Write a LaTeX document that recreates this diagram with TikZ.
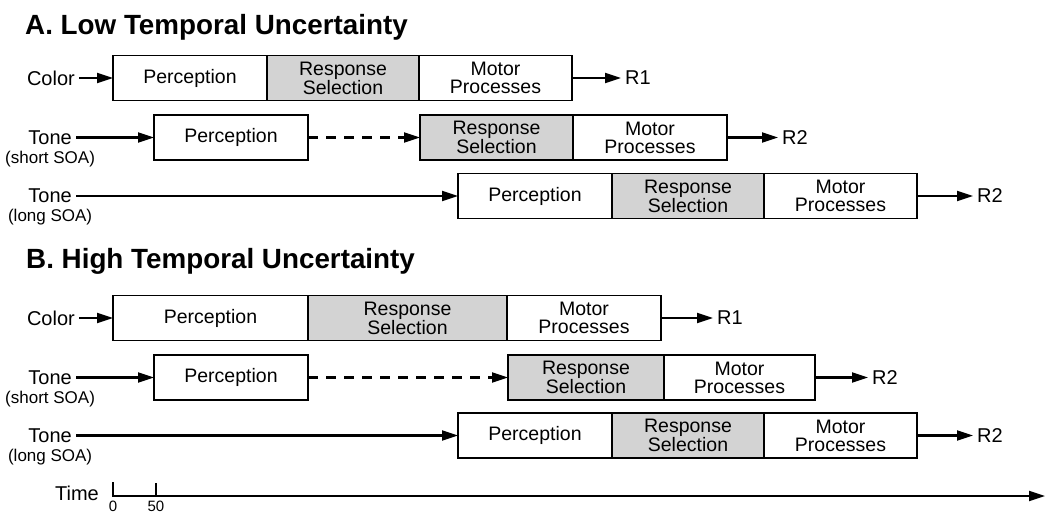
\documentclass[tikz,border=0pt]{standalone}
\usepackage{fontspec}
\setmainfont{Liberation Sans}
\usetikzlibrary{arrows.meta,positioning}
\definecolor{selgray}{RGB}{211,211,211}

\begin{document}
\begin{tikzpicture}[x=1pt,y=-1pt,
		stage/.style={draw, line width=1.6pt, minimum height=45pt, outer sep=0pt, inner sep=0pt, align=center, anchor=west, font=\fontsize{19.5}{18}\selectfont},
		select/.style={stage, fill=selgray},
		lbl/.style={inner xsep=4pt, inner ysep=0pt, font=\fontsize{20}{20}\selectfont},
		soa/.style={inner sep=0pt, font=\fontsize{17}{17}\selectfont},
		title/.style={inner sep=0pt, anchor=base west, font=\fontsize{27.8}{27.8}\selectfont\bfseries},
		arrow/.style={-{Triangle[length=16pt,width=10pt]}, line width=2.2pt}
		]
		\useasboundingbox (0,0) rectangle (1045,516);
		
		% Titles
		\node[title] (ttlA) at (25,35) {A. Low Temporal Uncertainty};
		\node[title] (ttlB) at (26,268) {B. High Temporal Uncertainty};
		
		% A: stages
		\node[stage, minimum width=154] (a1per) at (113,78) {Perception};
		\node[select, minimum width=152] (a1sel) at (a1per.east) {Response\\Selection};
		\node[stage, minimum width=153] (a1mot) at (a1sel.east) {Motor\\Processes};
		
		\node[stage, minimum width=154] (a2per) at (154,137.5) {Perception};
		\node[select, minimum width=153] (a2sel) at (420,137.5) {Response\\Selection};
		\node[stage, minimum width=154] (a2mot) at (a2sel.east) {Motor\\Processes};
		
		\node[stage, minimum width=154] (a3per) at (458,196) {Perception};
		\node[select, minimum width=152] (a3sel) at (a3per.east) {Response\\Selection};
		\node[stage, minimum width=153] (a3mot) at (a3sel.east) {Motor\\Processes};
		
		% B: stages
		\node[stage, minimum width=195] (b1per) at (113,318) {Perception};
		\node[select, minimum width=199] (b1sel) at (b1per.east) {Response\\Selection};
		\node[stage, minimum width=154] (b1mot) at (b1sel.east) {Motor\\Processes};
		
		\node[stage, minimum width=154] (b2per) at (154,377.5) {Perception};
		\node[select, minimum width=156] (b2sel) at (508,377.5) {Response\\Selection};
		\node[stage, minimum width=151] (b2mot) at (b2sel.east) {Motor\\Processes};
		
		\node[stage, minimum width=154] (b3per) at (458,435.5) {Perception};
		\node[select, minimum width=152] (b3sel) at (b3per.east) {Response\\Selection};
		\node[stage, minimum width=153] (b3mot) at (b3sel.east) {Motor\\Processes};
		
		% Stimuli
		\node[lbl, anchor=east] (a1col) at (79,78) {Color};
		\node[lbl, anchor=east] (a2tone) at (76,137.5) {Tone};
		\node[soa, below=6pt of a2tone] (a2soa) {(short SOA)};
		\node[lbl, anchor=east] (a3tone) at (76,196) {Tone};
		\node[soa, below=6pt of a3tone] (a3soa) {(long SOA)};
		
		\node[lbl, anchor=east] (b1col) at (79,318) {Color};
		\node[lbl, anchor=east] (b2tone) at (76,377.5) {Tone};
		\node[soa, below=6pt of b2tone] (b2soa) {(short SOA)};
		\node[lbl, anchor=east] (b3tone) at (76,435.5) {Tone};
		\node[soa, below=6pt of b3tone] (b3soa) {(long SOA)};
		
		% Responses
		\node[lbl, anchor=west] (a1r) at (621,78) {R1};
		\node[lbl, anchor=west] (a2r) at (778,137.5) {R2};
		\node[lbl, anchor=west] (a3r) at (973,196) {R2};
		\node[lbl, anchor=west] (b1r) at (713,318) {R1};
		\node[lbl, anchor=west] (b2r) at (868,377.5) {R2};
		\node[lbl, anchor=west] (b3r) at (973,435.5) {R2};
		
		% Arrows
		\draw[arrow] (a1col.east) -- (a1per.west);
		\draw[arrow] (a2tone.east) -- (a2per.west);
		\draw[arrow, dash pattern=on 10pt off 8pt] (a2per.east) -- (a2sel.west);
		\draw[arrow] (a3tone.east) -- (a3per.west);
		\draw[arrow] (a1mot.east) -- (a1r.west);
		\draw[arrow] (a2mot.east) -- (a2r.west);
		\draw[arrow] (a3mot.east) -- (a3r.west);
		
		\draw[arrow] (b1col.east) -- (b1per.west);
		\draw[arrow] (b2tone.east) -- (b2per.west);
		\draw[arrow, dash pattern=on 10pt off 8pt] (b2per.east) -- (b2sel.west);
		\draw[arrow] (b3tone.east) -- (b3per.west);
		\draw[arrow] (b1mot.east) -- (b1r.west);
		\draw[arrow] (b2mot.east) -- (b2r.west);
		\draw[arrow] (b3mot.east) -- (b3r.west);
		
		% Time axis
		\coordinate (t0) at (113,496);
		\coordinate (t0top) at (113,483);
		\coordinate (t50) at (156,496);
		\coordinate (t50top) at (156,483);
		\coordinate (tend) at (1045,496);
		\node[lbl, anchor=east] (time) at (103,493) {Time};
		\draw[arrow, line cap=rect] (t0top) -- (t0) -- (tend);
		\draw[line width=2.2pt] (t50top) -- (t50);
		\node[soa, font=\fontsize{15}{15}\selectfont, below=5pt of t0] (lbl0) {0};
		\node[soa, font=\fontsize{15}{15}\selectfont, below=5pt of t50] (lbl50) {50};
		
	\end{tikzpicture}
\end{document}
